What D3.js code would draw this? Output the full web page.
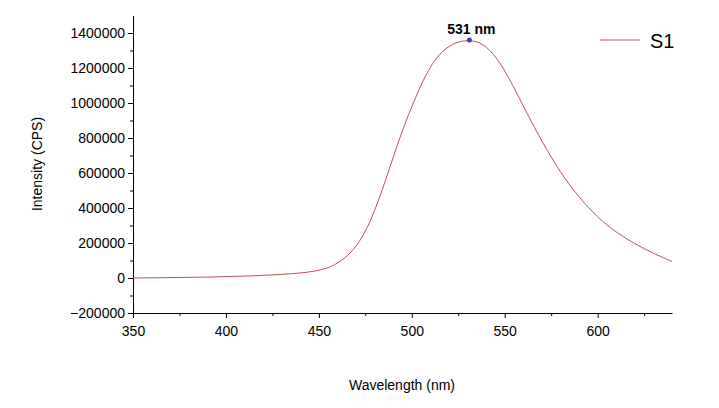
<!DOCTYPE html>
<html><head><meta charset="utf-8">
<script src="https://cdn.jsdelivr.net/npm/d3@7"></script>
<style>body{margin:0;background:#fff}text{font-family:"Liberation Sans",Arial,sans-serif}</style>
</head><body>
<svg id="chart" width="719" height="408"></svg>
<script>
const wavelength = [350,370,390,410,430,445,455,462,470,478,486,494,500,508,516,524,531,538,546,554,562,570,580,590,600,610,620,630,640];
const intensity  = [0,2000,5000,10000,20000,32000,55000,95000,170000,320000,560000,820000,980000,1180000,1300000,1350000,1360000,1345000,1260000,1110000,940000,780000,600000,460000,345000,260000,195000,140000,95000];
const xTicks = [350,400,450,500,550,600];
const yTicks = [-200000,0,200000,400000,600000,800000,1000000,1200000,1400000];
const peak = {x:531, y:1360000, label:"531 nm"};

const svg = d3.select("#chart");
const x = d3.scaleLinear().domain([350,640]).range([133,672]);
const y = d3.scaleLinear().domain([-200000,1500000]).range([313,15.5]);

// axes
const gx = svg.append("g").attr("transform","translate(0,313)")
  .call(d3.axisBottom(x).tickValues(xTicks).tickSize(5).tickSizeOuter(0));
svg.append("g").attr("transform","translate(0,313)")
  .call(d3.axisBottom(x).tickValues(d3.range(375,640,50)).tickSize(3).tickFormat(""))
  .select(".domain").remove();
const gy = svg.append("g").attr("transform","translate(133,0)")
  .call(d3.axisLeft(y).tickValues(yTicks).tickSize(5).tickSizeOuter(0).tickFormat(d3.format("d")));
svg.append("g").attr("transform","translate(133,0)")
  .call(d3.axisLeft(y).tickValues(d3.range(-100000,1500000,200000)).tickSize(3).tickFormat(""))
  .select(".domain").remove();
svg.selectAll(".tick text").attr("font-size",14).attr("fill","#000")
  .attr("font-family","Liberation Sans Narrow, Liberation Sans, Arial");
gx.selectAll(".tick text").attr("dy","1.1em");
svg.selectAll(".domain,.tick line").attr("stroke","#000");

// labels
svg.append("text").attr("x",402).attr("y",390).attr("text-anchor","middle")
  .attr("font-size",14).attr("font-family","Liberation Sans Narrow, Liberation Sans").text("Wavelength (nm)");
svg.append("text").attr("transform","translate(42,164) rotate(-90)")
  .attr("text-anchor","middle").attr("font-size",14).text("Intensity (CPS)");

// curve
svg.append("path").datum(wavelength.map((w,i)=>[w,intensity[i]]))
  .attr("fill","none").attr("stroke","#c0505a").attr("stroke-width",1)
  .attr("d", d3.line().x(d=>x(d[0])).y(d=>y(d[1])).curve(d3.curveBasis));

// peak
svg.append("circle").attr("cx",x(peak.x)).attr("cy",y(peak.y)).attr("r",2.5).attr("fill","#3340c0");
svg.append("text").attr("x",x(peak.x)+2).attr("y",y(peak.y)-6).attr("text-anchor","middle")
  .attr("font-size",14).attr("font-weight","bold").attr("font-family","DejaVu Sans").text(peak.label);

// legend
svg.append("line").attr("x1",600).attr("x2",640).attr("y1",40).attr("y2",40).attr("stroke","#c0505a");
svg.append("text").attr("x",650).attr("y",48).attr("font-size",20).attr("font-family","Liberation Sans Narrow, Liberation Sans").text("S1");
</script>
</body></html>
